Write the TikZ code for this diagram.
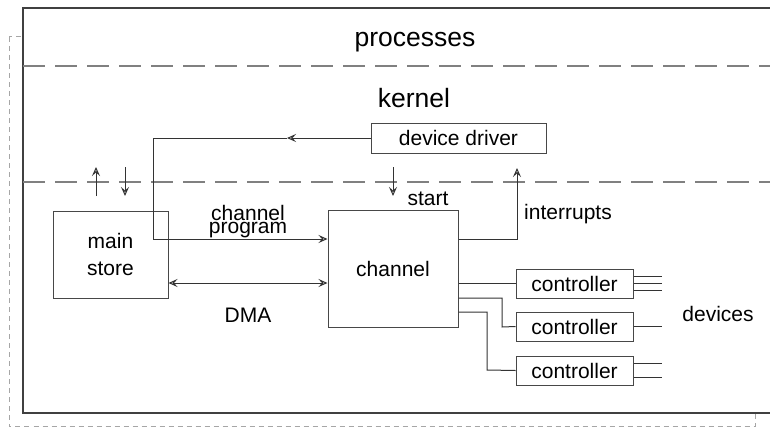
\documentclass[tikz,border=0pt]{standalone}
\usepackage{fontspec}
\setmainfont{Liberation Sans}
\usetikzlibrary{arrows.meta}
\begin{document}
\begin{tikzpicture}[x=1pt,y=-1pt,
  box/.style={draw=black!72, line width=1pt, inner sep=0pt, font=\fontsize{21}{27}\selectfont, align=center},
  conn/.style={draw=black!80, line width=1pt},
  tip/.style={-{Stealth[open,length=9pt,width=8pt,inset=3.5pt]}},
  sep/.style={draw=black!50, line width=1.5pt, dash pattern=on 22pt off 10pt},
  lbl/.style={anchor=base, inner sep=0pt, font=\fontsize{21}{24}\selectfont},
  big/.style={anchor=base, inner sep=0pt, font=\fontsize{26.5}{30}\selectfont}]
\useasboundingbox (0,0) rectangle (770,428);
% frames
\draw[black!35, line width=1pt, dash pattern=on 5pt off 4pt] (9,37) rectangle (755,426.5);
\fill[white] (23,8) rectangle (770,413);
\draw[black!75, line width=1.2pt] (770,8) -- (23,8) -- (23,413) -- (770,413);
\draw[sep] (23,66) -- (770,66);
\draw[sep] (23,182) -- (770,182);
% titles
\node[big] (proc) at (415,47) {processes};
\node[big] (kern) at (414,107) {kernel};
% boxes
\node[box, minimum width=175pt, minimum height=30pt] (dd) at (458.5,138) {device driver};
\node[box, minimum width=115pt, minimum height=87pt] (ms) at (110.5,254.5) {main\\store};
\node[box, minimum width=130pt, minimum height=117pt] (ch) at (393,268.5) {channel};
\node[box, minimum width=117pt, minimum height=29pt] (c1) at (574.5,283.5) {controller};
\node[box, minimum width=117pt, minimum height=29pt] (c2) at (574.5,326.5) {controller};
\node[box, minimum width=117pt, minimum height=29pt] (c3) at (574.5,370.5) {controller};
% labels
\node[lbl] (cp1) at (248,220) {channel};
\node[lbl] (cp2) at (248,233) {program};
\node[lbl] (dma) at (248,322) {DMA};
\node[lbl] (st) at (428,205) {start};
\node[lbl] (intr) at (568,219) {interrupts};
\node[lbl] (dev) at (718,321) {devices};
% coordinates
\coordinate (ddmid) at (287,138);
\coordinate (corner) at (153,138);
\coordinate (cpy) at (153,239);
\coordinate (dmay) at (0,283);
\coordinate (intx) at (517,239);
\coordinate (inttop) at (517,168);
\coordinate (b1) at (502,298);
\coordinate (b1d) at (502,327);
\coordinate (b2) at (487,312);
\coordinate (b2d) at (487,370);
\coordinate (st1) at (393,167);
\coordinate (st2) at (393,196);
\coordinate (up1) at (96,196);
\coordinate (up2) at (96,167);
\coordinate (dn1) at (125,167);
\coordinate (dn2) at (125,196);
% connectors
\draw[conn, tip] (dd.west) -- (ddmid);
\draw[conn] (ddmid) -- (corner) -- (cpy);
\draw[conn, tip] (cpy) -- (ch.west |- cpy);
\draw[conn, {Stealth[open,length=9pt,width=8pt,inset=3.5pt]}-{Stealth[open,length=9pt,width=8pt,inset=3.5pt]}] (ms.east |- dmay) -- (ch.west |- dmay);
\draw[conn, tip] (ch.east |- intx) -- (intx) -- (inttop);
\draw[conn, tip] (st1) -- (st2);
\draw[conn, tip] (up1) -- (up2);
\draw[conn, tip] (dn1) -- (dn2);
\draw[conn] (ch.east |- c1.west) -- (c1.west);
\draw[conn] (ch.east |- b1) -- (b1) -- (b1d) -- (c2.west);
\draw[conn] (ch.east |- b2) -- (b2) -- (b2d) -- (c3.west);
% device lines
\draw[conn] ([yshift=7pt]c1.east) -- ++(28,0);
\draw[conn] (c1.east) -- ++(28,0);
\draw[conn] ([yshift=-7pt]c1.east) -- ++(28,0);
\draw[conn] (c2.east) -- ++(28,0);
\draw[conn] ([yshift=7pt]c3.east) -- ++(28,0);
\draw[conn] ([yshift=-7pt]c3.east) -- ++(28,0);
\end{tikzpicture}
\end{document}
